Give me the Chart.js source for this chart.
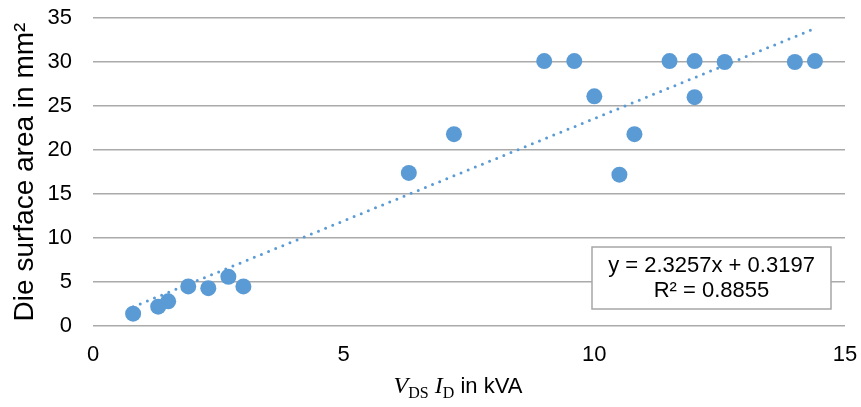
<!DOCTYPE html>
<html>
<head>
<meta charset="utf-8">
<script src="https://cdn.jsdelivr.net/npm/chart.js@4/dist/chart.umd.min.js"></script>
<style>
  html, body { margin: 0; padding: 0; background: #fff; }
  #wrap { width: 861px; height: 407px; }
</style>
</head>
<body>
<div id="wrap"><canvas id="myChart" width="861" height="407"></canvas></div>
<script>
// power V_DS * I_D (kVA) vs die surface area (mm2)
const powerKVA = [0.8, 1.3, 1.5, 1.9, 2.3, 2.7, 3.0, 6.3, 7.2, 9.0, 9.6, 10.0, 10.5, 10.8, 11.5, 12.0, 12.0, 12.6, 14.0, 14.4];
const dieArea  = [1.4, 2.2, 2.8, 4.5, 4.3, 5.6, 4.5, 17.4, 21.8, 30.1, 30.1, 26.1, 17.2, 21.8, 30.1, 30.1, 26.0, 30.0, 30.0, 30.1];

// linear trendline as reported in the chart
const trendSlope = 2.3257;
const trendIntercept = 0.3197;
const trendR2 = 0.8855;
const trendX = [0.8, 14.4];

const xTicks = [0, 5, 10, 15];
const yTicks = [0, 5, 10, 15, 20, 25, 30, 35];

const blue = "#5B9BD5";
const font = "'Liberation Sans', Arial, sans-serif";

const points = powerKVA.map(function (x, i) { return { x: x, y: dieArea[i] }; });
const trend = trendX.map(function (x) { return { x: x, y: trendSlope * x + trendIntercept }; });

const extras = {
    id: "extras",
    afterDatasetsDraw(chart) {
        const ctx = chart.ctx;
        // equation box
        ctx.save();
        ctx.fillStyle = "#fff";
        ctx.strokeStyle = "#A6A6A6";
        ctx.lineWidth = 1.5;
        ctx.fillRect(592, 247, 239, 62);
        ctx.strokeRect(592, 247, 239, 62);
        ctx.fillStyle = "#000";
        ctx.font = "22px " + font;
        ctx.textAlign = "center";
        ctx.textBaseline = "middle";
        ctx.fillText("y = " + trendSlope + "x + " + trendIntercept, 711.5, 266);
        ctx.fillText("R\u00B2 = " + trendR2, 711.5, 291);
        ctx.restore();
    },
    afterDraw(chart) {
        // x axis title: V_DS I_D in kVA
        const ctx = chart.ctx;
        const parts = [
            { t: "V", f: "italic 24px 'Liberation Serif', serif", dy: 0 },
            { t: "DS", f: "16px 'Liberation Serif', serif", dy: 5 },
            { t: " ", f: "22px " + font, dy: 0 },
            { t: "I", f: "italic 24px 'Liberation Serif', serif", dy: 0 },
            { t: "D", f: "16px 'Liberation Serif', serif", dy: 5 },
            { t: " in kVA", f: "22px " + font, dy: 0 }
        ];
        ctx.save();
        ctx.fillStyle = "#000";
        ctx.textBaseline = "alphabetic";
        ctx.textAlign = "left";
        let total = 0;
        parts.forEach(function (p) { ctx.font = p.f; p.w = ctx.measureText(p.t).width; total += p.w; });
        let x = 458 - total / 2;
        const base = 393;
        parts.forEach(function (p) {
            ctx.font = p.f;
            ctx.fillText(p.t, x, base + p.dy);
            x += p.w;
        });
        ctx.restore();
    }
};

new Chart("myChart", {
    type: "scatter",
    data: {
        datasets: [{
            data: points,
            backgroundColor: blue,
            borderWidth: 0,
            pointRadius: 8,
            pointHoverRadius: 8
        }, {
            type: "line",
            data: trend,
            borderColor: blue,
            borderWidth: 3,
            borderDash: [0, 7.7],
            borderCapStyle: "round",
            pointRadius: 0,
            fill: false
        }]
    },
    options: {
        responsive: false,
        animation: false,
        layout: { padding: { top: 18, right: 16, left: 0, bottom: 0 } },
        plugins: { legend: { display: false }, tooltip: { enabled: false } },
        scales: {
            x: {
                type: "linear",
                min: 0,
                max: 15,
                afterBuildTicks: function (s) { s.ticks = xTicks.map(function (v) { return { value: v }; }); },
                afterFit: function (s) { s.height = 81; s.paddingLeft = 0; s.paddingRight = 0; },
                grid: { display: false, drawTicks: false },
                border: { display: false },
                ticks: { color: "#000", padding: 16, font: { family: font, size: 22 } }
            },
            y: {
                min: 0,
                max: 35,
                afterBuildTicks: function (s) { s.ticks = yTicks.map(function (v) { return { value: v }; }); },
                afterFit: function (s) { s.width = 93; s.paddingTop = 0; s.paddingBottom = 0; },
                grid: { color: "#AAAAAA", lineWidth: 1.5, drawTicks: false },
                border: { display: false },
                ticks: { color: "#000", padding: 21, font: { family: font, size: 22 } },
                title: {
                    display: true,
                    text: "Die surface area in mm\u00B2",
                    color: "#000",
                    padding: { top: 8, bottom: 0 },
                    font: { family: font, size: 28 }
                }
            }
        }
    },
    plugins: [extras]
});
</script>
</body>
</html>
